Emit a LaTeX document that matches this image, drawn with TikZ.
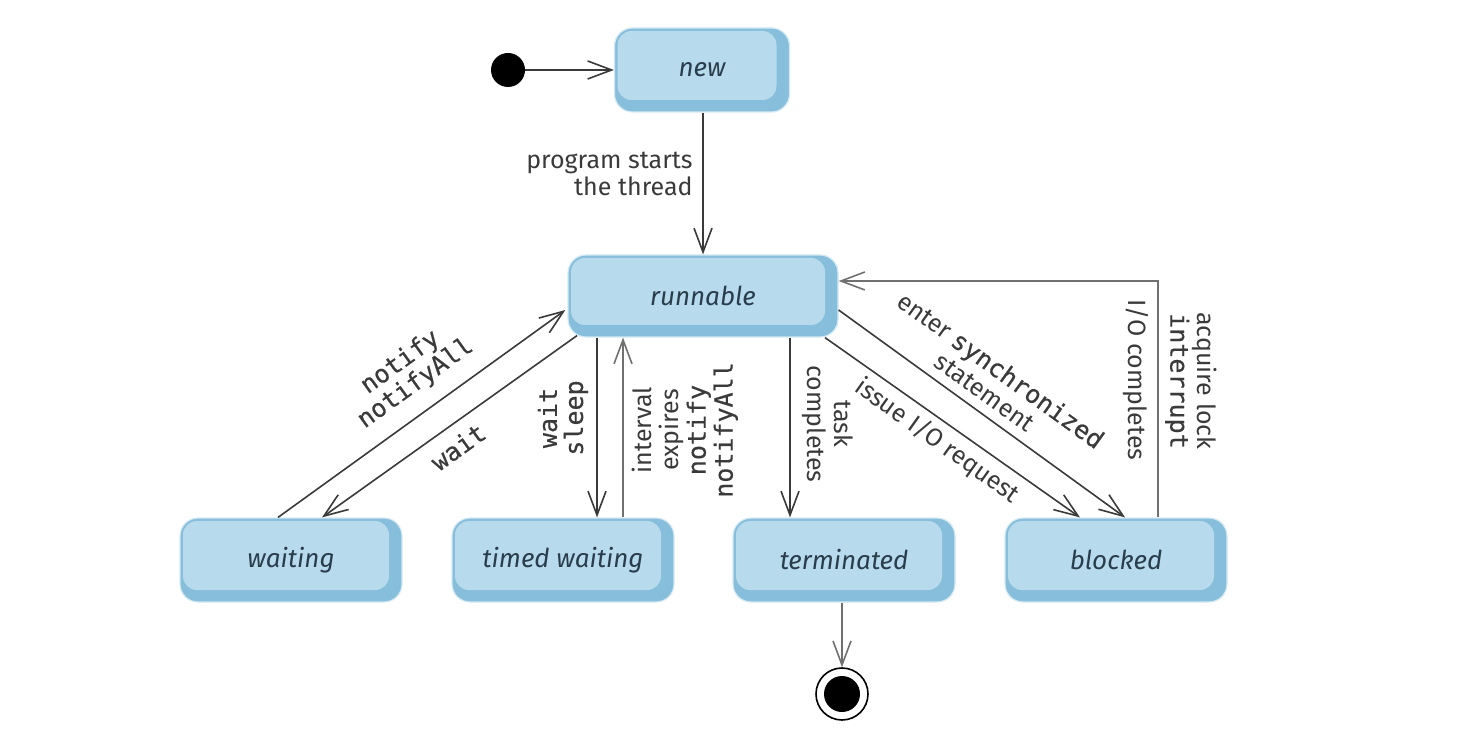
\documentclass[tikz,border=0pt]{standalone}
\usepackage{fontspec}
\setmainfont{Fira Sans}
\setmonofont{DejaVu Sans Mono}[FakeBold=0.5]
\usetikzlibrary{arrows.meta}
\definecolor{boxface}{HTML}{B7DBEC}
\definecolor{boxdark}{HTML}{86BEDB}
\definecolor{boxedge}{HTML}{D2E8F3}
\definecolor{txt}{HTML}{2A3D4D}
\definecolor{ln}{HTML}{3A3A3A}
\definecolor{lnlight}{HTML}{707070}
\begin{document}
\begin{tikzpicture}[x=0.5pt,y=-0.5pt,
  state/.style={rectangle, rounded corners=9pt, fill=boxdark, draw=boxedge, line width=0.6pt,
    minimum width=111pt, minimum height=42pt, inner sep=0pt,
    font=\fontsize{13}{15}\selectfont\itshape, text=txt,
    path picture={\fill[boxface, rounded corners=7pt]
      ([shift={(1.5pt,-1.5pt)}]path picture bounding box.north west) rectangle
      ([shift={(-6.5pt,6pt)}]path picture bounding box.south east);}},
  tr/.style={draw=ln, line width=0.8pt, -{Straight Barb[length=12pt,width=9pt]}},
  lbl/.style={font=\fontsize{12.5}{13.5}\selectfont, text=ln, inner sep=0pt, align=center},
  mono/.style={font=\fontsize{12.5}{13}\selectfont\ttfamily}
]
\useasboundingbox (0,0) rectangle (1466,748);

% states
\node[state, minimum width=87.5pt] (new) at (702,70) {new};
\node[state, minimum width=135pt, minimum height=41pt] (runnable) at (703,296) {runnable};
\node[state] (waiting) at (291,560) {waiting};
\node[state] (timed) at (563,560) {timed waiting};
\node[state] (terminated) at (844,560) {terminated};
\node[state] (blocked) at (1116,560) {blocked};
\node[circle, fill=black, minimum size=17pt, inner sep=0pt] (init) at (508,70) {};
\node[circle, draw=black, line width=0.8pt, fill=white, minimum size=26pt, inner sep=0pt] (final) at (842,694) {};
\node[circle, fill=black, minimum size=18pt, inner sep=0pt] (finaldot) at (final) {};

% transitions
\draw[tr] (init) -- (new);
\draw[tr] (new.south -| runnable.north) -- (runnable.north);
\draw[tr] ([xshift=-6.5pt]waiting.north) -- ([xshift=-1pt,yshift=-7pt]runnable.west);
\draw[tr] ([xshift=-63pt,yshift=1pt]runnable.south) -- ([xshift=15.5pt]waiting.north);
\draw[tr] ([xshift=17pt]timed.north |- runnable.south) -- ([xshift=17pt]timed.north);
\draw[tr, draw=lnlight] ([xshift=30pt]timed.north) -- ([xshift=30pt]timed.north |- runnable.south);
\draw[tr] ([xshift=-27pt]terminated.north |- runnable.south) -- ([xshift=-27pt]terminated.north);
\draw[tr] ([xshift=61pt]runnable.south) -- ([xshift=-18pt]blocked.north);
\draw[tr] ([yshift=-7pt]runnable.east) -- ([xshift=4.5pt]blocked.north);
\draw[tr, draw=lnlight] ([xshift=21pt]blocked.north) |- ([yshift=7.5pt]runnable.east);
\draw[tr, draw=lnlight] ([xshift=-1pt]terminated.south) -- (final);

% labels
\node[lbl, align=right, anchor=east] (lprog) at (693,174) {program starts\\the thread};
\node[lbl, mono, rotate=35.8] (lnotify) at (408,373) {notify\\notifyAll};
\node[lbl, mono, rotate=35.7] (lwait) at (458,447) {wait};
\node[lbl, mono, rotate=90] (lwaitsleep) at (563,418) {wait\\sleep};
\node[lbl, rotate=90] (linterval) at (685,430) {interval\\expires\\\texttt{notify}\\\texttt{notifyAll}};
\node[lbl, rotate=-90] (ltask) at (828,424) {task\\completes};
\node[lbl, rotate=-35.5] (lissue) at (937,441) {issue I/O request};
\node[lbl, rotate=-35.8] (lenter) at (993,381) {enter \texttt{synchronized}\\statement};
\node[lbl, rotate=-90] (lio) at (1136,380) {I/O completes};
\node[lbl, rotate=-90] (lacq) at (1191,381) {acquire lock\\\texttt{interrupt}};
\end{tikzpicture}
\end{document}
